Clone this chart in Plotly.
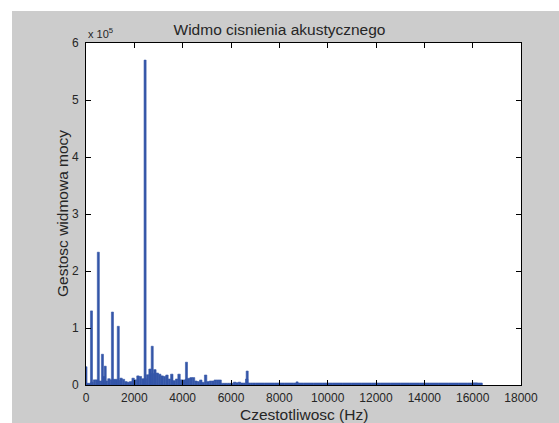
import plotly.graph_objects as go

# ---------------- data (PSD in Pa^2/Hz, frequency in Hz) ----------------
# broadband "grass" in 100 Hz bins (bin start frequency)
low_bin_hz = [0, 100, 200, 300, 400, 500, 600, 700, 800, 900,
              1000, 1100, 1200, 1300, 1400, 1500, 1600, 1700, 1800, 1900,
              2000, 2100, 2200, 2300, 2400, 2500, 2600, 2700, 2800, 2900,
              3000, 3100, 3200, 3300, 3400, 3500, 3600, 3700, 3800, 3900,
              4000, 4100, 4200, 4300, 4400, 4500, 4600, 4700, 4800, 4900,
              5000, 5100, 5200, 5300, 5400, 5500, 5600, 5700, 5800, 5900,
              6000, 6100, 6200, 6300, 6400, 6500, 6600, 6700, 6800, 6900]
low_psd = [3000, 3000, 5000, 9000, 9000, 7000, 7000, 15000, 7000, 11000,
           9000, 10000, 10000, 8000, 12000, 10000, 6000, 5000, 6000, 12000,
           9000, 16000, 15000, 11000, 11000, 18000, 28000, 20000, 27000, 21000,
           19000, 16000, 15000, 17500, 10500, 19000, 7600, 10500, 19000, 9000,
           8800, 10000, 11700, 13000, 13000, 7000, 6000, 8800, 4700, 17500,
           6000, 7000, 7000, 8800, 8800, 8800, 3000, 3000, 3000, 3000,
           3000, 5000, 4000, 5000, 3500, 3500, 10500, 3500, 3500, 3500]

# high-frequency floor in 400 Hz bins (bin start frequency)
tail_bin_hz = [7000, 7400, 7800, 8200, 8600, 9000, 9400, 9800, 10200, 10600,
               11000, 11400, 11800, 12200, 12600, 13000, 13400, 13800, 14200,
               14600, 15000, 15400, 15800, 16000]
tail_psd = [3500, 3500, 3500, 3500, 3500, 3500, 3500, 3500, 3500, 3500,
            3500, 3500, 3500, 3500, 3500, 3500, 3500, 3500, 3500,
            3500, 3500, 3500, 3500, 3500]

# narrow tonal peaks
peak_hz = [0, 227, 510, 680, 795, 1094, 1336, 2445, 2740, 4157, 6670, 8735]
peak_psd = [32000, 130000, 233000, 54000, 33000, 128000, 103000, 570000,
            68000, 40000, 24500, 5500]

x_ticks = [0, 2000, 4000, 6000, 8000, 10000, 12000, 14000, 16000, 18000]
x_ticktext = ["0", "2000", "4000", "6000", "8000", "10000", "12000",
              "14000", "16000", "18000"]
y_ticks = [0, 100000, 200000, 300000, 400000, 500000, 600000]
y_ticktext = ["0", "1", "2", "3", "4", "5", "6"]

# ---------------- style ----------------
W, H = 559, 423
ML, MR, MT, MB = 86, 38, 43, 38
PW, PH = W - ML - MR, H - MT - MB
BAR = "#3456a8"
FIG_BG = "#cccccc"
TXT = "#262626"
FONT = "Liberation Sans, Arial, sans-serif"

fig = go.Figure()
bar_marker = dict(color=BAR, line=dict(width=0.6, color=BAR))
fig.add_trace(go.Bar(x=low_bin_hz, y=low_psd, width=100, offset=0, marker=bar_marker))
fig.add_trace(go.Bar(x=tail_bin_hz, y=tail_psd, width=400, offset=0, marker=bar_marker))
fig.add_trace(go.Bar(x=peak_hz, y=peak_psd, width=85, marker=bar_marker))

def px_x(p):
    return (p - ML) / PW

def px_y(p):
    return (H - MB - p) / PH

axis_common = dict(showline=True, linecolor="black", linewidth=1, mirror="ticks",
                   ticks="inside", ticklen=5, tickcolor="black", tickwidth=1,
                   showgrid=False, zeroline=False, automargin=False,
                   tickfont=dict(family=FONT, size=12, color=TXT))

fig.update_layout(
    width=W, height=H, margin=dict(l=ML, r=MR, t=MT, b=MB, autoexpand=False),
    paper_bgcolor=FIG_BG, plot_bgcolor="white",
    barmode="overlay", showlegend=False,
    font=dict(family=FONT, color=TXT),
    title=dict(text="Widmo cisnienia akustycznego", x=px_x(303.5), xanchor="center",
               y=1 - 30 / H, yanchor="middle",
               font=dict(family=FONT, size=15.5, color=TXT)),
    xaxis=dict(range=[0, 18000], tickvals=x_ticks, ticktext=x_ticktext,
               ticklabelstandoff=2, **axis_common),
    yaxis=dict(range=[0, 600000], tickvals=y_ticks, ticktext=y_ticktext,
               ticklabelstandoff=4, **axis_common),
    shapes=[
        dict(type="rect", xref="paper", yref="paper", layer="below",
             x0=px_x(0), x1=px_x(W), y0=px_y(0), y1=px_y(11),
             fillcolor="white", line=dict(width=0)),
        dict(type="rect", xref="paper", yref="paper", layer="below",
             x0=px_x(0), x1=px_x(12), y0=px_y(0), y1=px_y(H),
             fillcolor="white", line=dict(width=0)),
    ],
    annotations=[
        dict(text="x 10<sup>5</sup>", xref="paper", yref="paper",
             x=0, xanchor="left", y=1, yanchor="bottom", yshift=1,
             showarrow=False, font=dict(family=FONT, size=11, color=TXT)),
        dict(text="Czestotliwosc (Hz)", xref="paper", yref="paper",
             x=px_x(303.5), xanchor="center", y=px_y(414), yanchor="middle",
             showarrow=False, font=dict(family=FONT, size=15.5, color=TXT)),
        dict(text="Gestosc widmowa mocy", xref="paper", yref="paper",
             x=px_x(62), xanchor="center", y=px_y(214), yanchor="middle",
             textangle=-90, showarrow=False,
             font=dict(family=FONT, size=15.5, color=TXT)),
    ],
)

fig.write_html("out.html", config={"displayModeBar": False},
               post_script="document.body.style.margin='0';"
                           "document.body.style.overflow='hidden';"
                           "document.documentElement.style.overflow='hidden';")
